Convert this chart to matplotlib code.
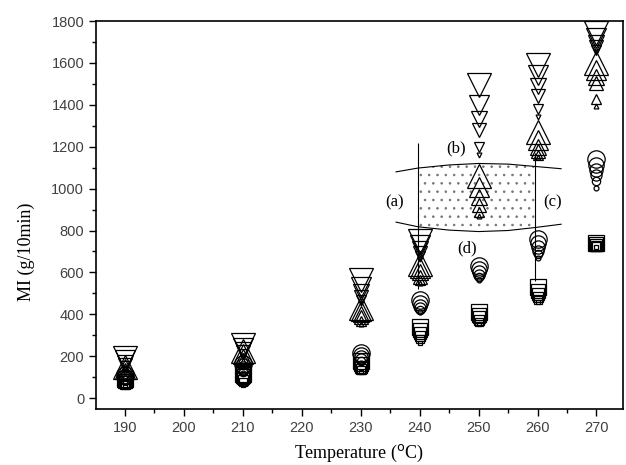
import matplotlib
matplotlib.use('Agg')
import matplotlib.pyplot as plt
import numpy as np

# ==========================================================================
#  Dati (MI in g/10min, 6 livelli per ogni temperatura)
temps = [190, 210, 230, 240, 250, 260, 270]

mi_down = [[190, 180, 170, 160, 152, 145],
           [255, 240, 228, 218, 210, 200],
           [565, 530, 505, 485, 468, 455],
           [750, 730, 712, 695, 680, 665],
           [1495, 1400, 1330, 1280, 1200, 1160],
           [1590, 1540, 1490, 1440, 1380, 1340],
           [1745, 1720, 1695, 1675, 1660, 1650]]

mi_up = [[150, 140, 130, 120, 112, 105],
         [225, 210, 195, 180, 170, 160],
         [430, 415, 400, 385, 370, 355],
         [640, 620, 600, 580, 565, 550],
         [1060, 1010, 960, 920, 890, 870],
         [1270, 1230, 1200, 1180, 1160, 1150],
         [1600, 1565, 1535, 1505, 1430, 1395]]

mi_circ = [[110, 103, 96, 90, 85, 80],
           [165, 155, 145, 135, 127, 120],
           [215, 205, 195, 185, 178, 170],
           [470, 455, 442, 430, 420, 410],
           [630, 615, 602, 590, 576, 562],
           [760, 740, 720, 702, 686, 670],
           [1140, 1115, 1090, 1065, 1035, 1005]]

mi_sq = [[90, 82, 75, 68, 62, 56],
         [115, 105, 95, 85, 75, 65],
         [175, 162, 150, 140, 132, 125],
         [340, 325, 310, 295, 280, 262],
         [410, 396, 385, 375, 365, 355],
         [530, 512, 496, 482, 470, 460],
         [740, 736, 732, 728, 724, 720]]

# zona puntinata (b) e linee (a), (c)
curve_x = [236, 239.7, 245, 250, 255, 259.5, 264]
curve_top = [1080, 1098, 1113, 1120, 1117, 1106, 1095]
curve_bot = [840, 818, 802, 795, 800, 814, 830]
line_a = (239.7, 520, 1220)
line_c = (259.5, 560, 1170)
labels = {'(a)': (235.8, 936), '(b)': (246.1, 1194),
          '(c)': (262.6, 936), '(d)': (248.0, 716)}

# dimensioni marker (pt), dal piu' grande al piu' piccolo
ms_tri = [17, 14, 12, 9.5, 6.5, 3.5]
ms_circ = [12.5, 11, 9.5, 8, 6, 3.5]
ms_sq = [12, 10.5, 9, 7.5, 5.5, 3.5]

# ==========================================================================
fig = plt.figure(figsize=(6.26, 4.65), dpi=100)
ax = fig.add_axes([0.1534, 0.1204, 0.8418, 0.8344])

groups = [(mi_down, 'v', ms_tri), (mi_up, '^', ms_tri),
          (mi_circ, 'o', ms_circ), (mi_sq, 's', ms_sq)]
for data, mk, sizes in groups:
    arr = np.array(data)
    for i, ms in enumerate(sizes):
        ax.plot(temps, arr[:, i], ls='none', marker=mk, ms=ms,
                mfc='none', mec='k', mew=0.9)

# zona puntinata
cx = np.array(curve_x)
sel = (cx >= line_a[0]) & (cx <= line_c[0])
plt.rcParams['hatch.linewidth'] = 0.6
ax.fill_between(cx[sel], np.array(curve_bot)[sel], np.array(curve_top)[sel],
                facecolor='none', edgecolor='0.45', hatch='..', linewidth=0)
ax.plot(curve_x, curve_top, color='k', lw=0.8)
ax.plot(curve_x, curve_bot, color='k', lw=0.8)
ax.vlines(line_a[0], line_a[1], line_a[2], color='k', lw=0.8)
ax.vlines(line_c[0], line_c[1], line_c[2], color='k', lw=0.8)
for txt, (tx, ty) in labels.items():
    ax.text(tx, ty, txt, ha='center', va='center', fontsize=12,
            family='Liberation Serif')

ax.set_xlim(185.1, 274.5)
ax.set_ylim(-52, 1800)
ax.set_xticks(np.arange(190, 271, 10))
ax.set_xticks(np.arange(195, 271, 10), minor=True)
ax.set_yticks(np.arange(0, 1801, 200))
ax.set_yticks(np.arange(100, 1800, 200), minor=True)
ax.tick_params(which='both', direction='out', width=1, labelsize=10.5)
ax.tick_params(which='major', length=5)
ax.tick_params(which='minor', length=3)
for lab in ax.get_xticklabels() + ax.get_yticklabels():
    lab.set_family('Liberation Sans')
    lab.set_color('0.25')
for s in ax.spines.values():
    s.set_linewidth(1.2)

ax.set_xlabel('Temperature ($^{\\rm o}$C)', fontsize=13, family='Liberation Serif')
ax.set_ylabel('MI (g/10min)', fontsize=13, family='Liberation Serif')
ax.xaxis.set_label_coords(0.5, -0.088)
ax.yaxis.set_label_coords(-0.115, 0.405)

fig.savefig('out.png', dpi=100)
